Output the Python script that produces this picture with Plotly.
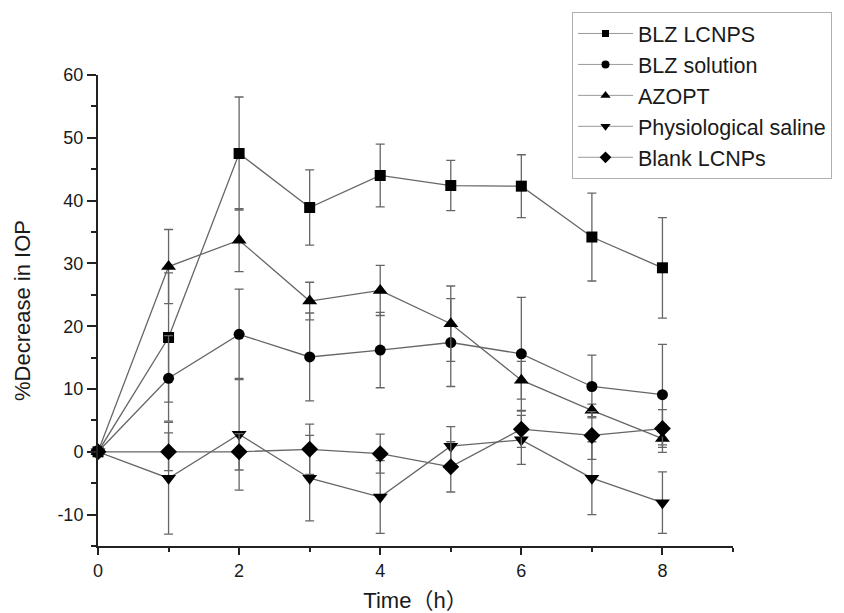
import plotly.graph_objects as go

time_h = [0, 1, 2, 3, 4, 5, 6, 7, 8]

series_names = ["BLZ LCNPS", "BLZ solution", "AZOPT", "Physiological saline", "Blank LCNPs"]
blz_lcnps = [0, 18.2, 47.5, 38.9, 44.0, 42.4, 42.3, 34.2, 29.3]
blz_lcnps_err = [0, 10.3, 9.0, 6.0, 5.0, 4.0, 5.0, 7.0, 8.0]
blz_solution = [0, 11.7, 18.7, 15.1, 16.2, 17.4, 15.6, 10.4, 9.1]
blz_solution_err = [0, 6.8, 7.2, 7.0, 6.0, 7.0, 9.0, 5.0, 8.0]
azopt = [0, 29.5, 33.7, 24.0, 25.7, 20.4, 11.4, 6.6, 2.1]
azopt_err = [0, 5.9, 5.0, 3.0, 4.0, 6.0, 3.0, 1.0, 2.2]
saline = [0, -4.2, 2.8, -4.2, -7.2, 0.9, 1.9, -4.2, -8.1]
saline_err = [0, 8.9, 8.9, 6.8, 5.8, 3.1, 3.9, 5.8, 4.9]
blank_lcnps = [0, 0, 0, 0.4, -0.3, -2.4, 3.6, 2.6, 3.7]
blank_lcnps_err = [0, 3.0, 2.9, 4.0, 3.1, 4.0, 2.9, 3.8, 3.0]

y_tick_vals = [-10, 0, 10, 20, 30, 40, 50, 60]
y_tick_text = ["-10", "0", "10", "20", "30", "40", "50", "60"]
x_tick_vals = [0, 2, 4, 6, 8]
x_tick_text = ["0", "2", "4", "6", "8"]

values = [blz_lcnps, blz_solution, azopt, saline, blank_lcnps]
errors = [blz_lcnps_err, blz_solution_err, azopt_err, saline_err, blank_lcnps_err]
symbols = ["square", "circle", "triangle-up", "triangle-down", "diamond"]
sizes = [11, 11, 13, 13, 13]
legend_sizes = [7, 8, 9, 9, 9]

FONT = "Arial, Liberation Sans, Noto Sans CJK SC, sans-serif"
LINE_C = "#666666"

fig = go.Figure()
for name, y, e, sym, sz in zip(series_names, values, errors, symbols, sizes):
    fig.add_trace(go.Scatter(
        x=time_h, y=y, name=name, mode="lines+markers", showlegend=False,
        line=dict(color=LINE_C, width=1.3),
        marker=dict(symbol=sym, size=sz, color="black"),
        error_y=dict(type="data", array=e, visible=True, color=LINE_C,
                     thickness=1.3, width=4.5),
        cliponaxis=False,
    ))
# legend entries (smaller markers, as in the reference legend)
for name, sym, lsz in zip(series_names, symbols, legend_sizes):
    fig.add_trace(go.Scatter(
        x=[None], y=[None], name=name, mode="lines+markers", showlegend=True,
        line=dict(color="#9a9a9a", width=1),
        marker=dict(symbol=sym, size=lsz, color="black"),
    ))

# The page body has an 8px margin, so the figure is drawn 8px right/down.
W, H = 836, 605
fig.update_layout(
    width=W, height=H,
    paper_bgcolor="white", plot_bgcolor="white",
    margin=dict(l=90, r=111, t=67, b=67, autoexpand=False),
    font=dict(family=FONT, color="#1a1a1a"),
    showlegend=True,
    legend=dict(
        xref="container", yref="container",
        x=564 / W, y=1 - 4 / H, xanchor="left", yanchor="top",
        bordercolor="#b0b0b0", borderwidth=1, bgcolor="rgba(255,255,255,0)",
        font=dict(size=21.5, family=FONT, color="#1a1a1a"),
        itemwidth=55,
        tracegroupgap=0,
    ),
    xaxis=dict(
        range=[0, 9], tickvals=x_tick_vals, ticktext=x_tick_text,
        showgrid=False, zeroline=False,
        showline=True, linecolor="#222", linewidth=2,
        ticks="outside", ticklen=7, tickwidth=2, tickcolor="#222",
        tickfont=dict(size=18),
        minor=dict(dtick=1, tick0=0, ticks="outside", ticklen=4, tickwidth=2, tickcolor="#222"),
        title=dict(text="Time（h）", font=dict(size=22), standoff=16),
    ),
    yaxis=dict(
        range=[-15, 60], tickvals=y_tick_vals, ticktext=y_tick_text,
        showgrid=False, zeroline=False,
        showline=True, linecolor="#222", linewidth=2,
        ticks="outside", ticklen=9, tickwidth=2, tickcolor="#222",
        tickfont=dict(size=18),
        minor=dict(dtick=5, tick0=0, ticks="outside", ticklen=5, tickwidth=2, tickcolor="#222"),
        title=dict(text="%Decrease in IOP", font=dict(size=22), standoff=21),
    ),
)

fig.write_html("out.html")
